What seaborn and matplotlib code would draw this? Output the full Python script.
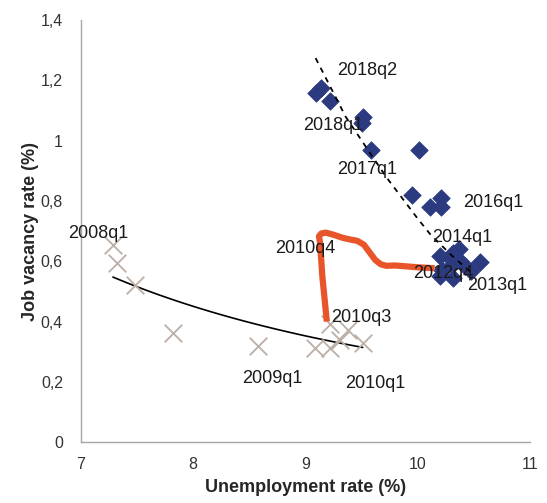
import matplotlib
matplotlib.use('Agg')
import matplotlib.pyplot as plt
import seaborn as sns
import numpy as np
import pandas as pd

# 2008q1 - 2010q3 (grey crosses)
crisis_u = [7.285, 7.32, 7.48, 7.82, 8.58, 9.085, 9.22, 9.31, 9.38, 9.51, 9.22]
crisis_v = [0.654, 0.594, 0.521, 0.362, 0.318, 0.312, 0.312, 0.338, 0.372, 0.328, 0.392]

# 2010q3 - 2012q4 (orange path)
path_u = [9.19, 9.15, 9.13, 9.12, 9.14, 9.18, 9.25, 9.33, 9.40, 9.46, 9.52, 9.57,
          9.62, 9.67, 9.72, 9.80, 9.90, 10.0, 10.15]
path_v = [0.40, 0.55, 0.66, 0.683, 0.692, 0.695, 0.688, 0.678, 0.672, 0.668, 0.655, 0.63,
          0.605, 0.59, 0.585, 0.586, 0.583, 0.58, 0.577]

# 2012q4 - 2018q2 (blue diamonds)
recov_u = [10.20, 10.31, 10.37, 10.55, 10.31, 10.42, 10.47, 10.20, 10.31, 10.29,
           10.21, 10.21, 10.11, 9.95, 10.01, 9.58, 9.50, 9.51, 9.22, 9.14, 9.09, 10.38, 10.22]
recov_v = [0.617, 0.627, 0.640, 0.597, 0.591, 0.584, 0.567, 0.551, 0.544, 0.61,
           0.81, 0.78, 0.78, 0.82, 0.97, 0.97, 1.06, 1.08, 1.131, 1.175, 1.158, 0.60, 0.57]

# dashed trendline through the recovery period
trend_u = [9.09, 9.36, 9.72, 9.99, 10.11, 10.30, 10.49]
trend_v = [1.274, 1.078, 0.879, 0.746, 0.690, 0.620, 0.558]

labels = ['2008q1', '2009q1', '2010q1', '2010q3', '2010q4', '2012q4',
          '2013q1', '2014q1', '2016q1', '2017q1', '2018q1', '2018q2']
label_x = [7.151, 8.70, 9.62, 9.50, 9.00, 10.23, 10.71, 10.40, 10.67, 9.55, 9.245, 9.55]
label_y = [0.693, 0.212, 0.196, 0.415, 0.644, 0.561, 0.518, 0.680, 0.796, 0.906, 1.052, 1.234]

xticks = [7, 8, 9, 10, 11]
yticks = [0, 0.2, 0.4, 0.6, 0.8, 1.0, 1.2, 1.4]
ytick_labels = ['0', '0,2', '0,4', '0,6', '0,8', '1', '1,2', '1,4']

sns.set_style('white')
plt.rcParams['font.family'] = ['Liberation Sans', 'DejaVu Sans']

fig = plt.figure(figsize=(5.47, 5.03), dpi=100)
ax = fig.add_axes([0.148, 0.121, 0.821, 0.839])

crisis = pd.DataFrame({'u': crisis_u, 'v': crisis_v})
recov = pd.DataFrame({'u': recov_u, 'v': recov_v})
path = pd.DataFrame({'u': path_u, 'v': path_v})

# power trendline fitted on the crisis series
b, a = np.polyfit(np.log(crisis['u']), np.log(crisis['v']), 1)
xs = np.linspace(crisis['u'].min(), crisis['u'].max(), 60)
ax.plot(xs, np.exp(a) * xs ** b, color='black', lw=1.2, zorder=2)

ax.plot(trend_u, trend_v, color='black', lw=1.3, ls=(0, (3, 3)), zorder=4)

sns.scatterplot(data=crisis, x='u', y='v', marker='x', s=160, color='#BCAFA6',
                linewidth=1.3, ax=ax, zorder=3)
sns.scatterplot(data=recov, x='u', y='v', marker='D', s=80, color='#2C3B80',
                edgecolor='#2C3B80', linewidth=0.5, ax=ax, zorder=3)
sns.lineplot(data=path, x='u', y='v', sort=False, color='#E9552B', lw=4.5,
             ax=ax, zorder=3, solid_capstyle='butt', solid_joinstyle='round')

for t, lx, ly in zip(labels, label_x, label_y):
    ax.text(lx, ly, t, ha='center', va='center', fontsize=13, color='#1a1a1a', zorder=5)

ax.set_xlim(7, 11)
ax.set_ylim(0, 1.4)
ax.set_xticks(xticks)
ax.set_xticklabels([str(x) for x in xticks])
ax.set_yticks(yticks)
ax.set_yticklabels(ytick_labels)
ax.tick_params(labelsize=11.5, colors='#333333', length=0)
ax.tick_params(axis='x', pad=11)
ax.tick_params(axis='y', pad=13)
ax.set_xlabel('Unemployment rate (%)', fontsize=13, fontweight='bold', labelpad=5)
ax.set_ylabel('Job vacancy rate (%)', fontsize=13, fontweight='bold', labelpad=1)

for s in ['top', 'right']:
    ax.spines[s].set_visible(False)
for s in ['left', 'bottom']:
    ax.spines[s].set_color('#A6A6A6')
    ax.spines[s].set_linewidth(1.0)

fig.savefig('out.png', dpi=100)
